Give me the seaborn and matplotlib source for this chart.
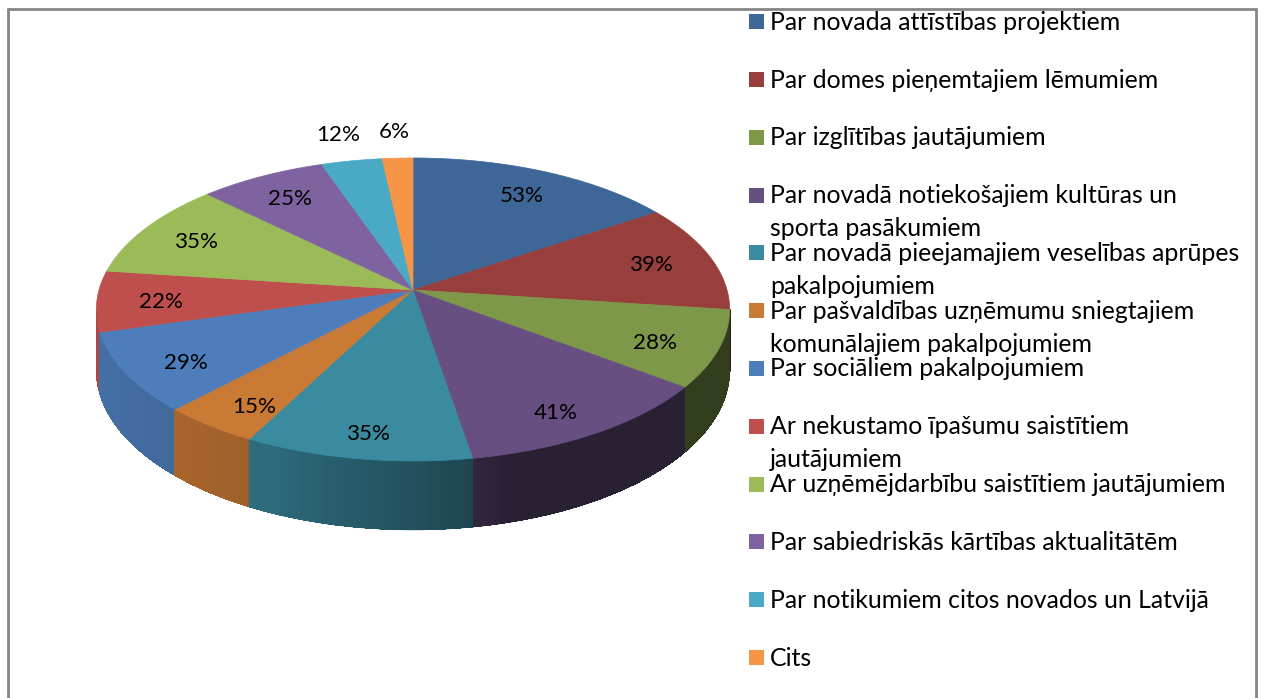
import numpy as np
import matplotlib
matplotlib.use("Agg")
import matplotlib.pyplot as plt
import seaborn as sns
from matplotlib.patches import Polygon, Rectangle
from matplotlib.lines import Line2D

# ---- data -------------------------------------------------------------
categories = [
    "Par novada attīstības projektiem",
    "Par domes pieņemtajiem lēmumiem",
    "Par izglītības jautājumiem",
    "Par novadā notiekošajiem kultūras un\nsporta pasākumiem",
    "Par novadā pieejamajiem veselības aprūpes\npakalpojumiem",
    "Par pašvaldības uzņēmumu sniegtajiem\nkomunālajiem pakalpojumiem",
    "Par sociāliem pakalpojumiem",
    "Ar nekustamo īpašumu saistītiem\njautājumiem",
    "Ar uzņēmējdarbību saistītiem jautājumiem",
    "Par sabiedriskās kārtības aktualitātēm",
    "Par notikumiem citos novados un Latvijā",
    "Cits",
]
values = [53, 39, 28, 41, 35, 15, 29, 22, 35, 25, 12, 6]
value_labels = ["53%", "39%", "28%", "41%", "35%", "15%",
                "29%", "22%", "35%", "25%", "12%", "6%"]
colors = ["#3E6797", "#983E3C", "#7D9848", "#684F82", "#3A8AA0", "#C97A35",
          "#4D7EBB", "#BF4F4C", "#9BBB59", "#7F63A1", "#4AAAC5", "#F69545"]

# ---- style ------------------------------------------------------------
sns.set_theme(style="white")
plt.rcParams["font.family"] = ["Lato", "DejaVu Sans"]
palette = sns.color_palette(colors)

W, H = 1264, 698
fig = plt.figure(figsize=(W / 100, H / 100), dpi=100)
ax = fig.add_axes([0, 0, 1, 1])
ax.set_xlim(0, W)
ax.set_ylim(H, 0)
ax.axis("off")

# chart-area frame
for xs, ys in [([8, 8], [9, H + 5]), ([8, 1256], [9, 9]), ([1256, 1256], [9, H + 5])]:
    ax.add_line(Line2D(xs, ys, color="#868686", lw=2))

# ---- 3-D pie geometry (perspective-projected disc) --------------------
CX, CY = 413, 290      # projected pie centre
A, B = 314, 149        # horizontal / vertical radius scale
P = 0.1286             # perspective strength
DEPTH = 60             # thickness of the disc


def project(r, phi_deg):
    phi = np.radians(phi_deg)
    u = -r * np.cos(phi)            # +1 = front, -1 = back
    s = 1.0 / (1.0 - P * u)
    return CX + A * r * np.sin(phi) * s, CY + B * u * s, s, u


shares = np.array(values, dtype=float) / np.sum(values)
edges = np.concatenate([[0.0], np.cumsum(shares)]) * 360.0

# side wall shading, a function of the angle around the rim
shade_phi = [90, 165, 172, 205, 225, 270]
shade_val = [0.40, 0.40, 0.52, 0.78, 0.84, 0.92]
phi_vis_lo = np.degrees(np.arccos(-P))
phi_vis_hi = 360 - phi_vis_lo

walls = []
for i, (a0, a1) in enumerate(zip(edges[:-1], edges[1:])):
    lo, hi = max(a0, phi_vis_lo), min(a1, phi_vis_hi)
    if hi <= lo:
        continue
    n = max(2, int((hi - lo) / 0.5) + 1)
    ph = np.linspace(lo, hi, n)
    base = np.array(palette[i])
    top = [project(1, p) for p in ph]
    outline = [(x, y) for x, y, s, u in top] + \
              [(x, y + DEPTH * s) for x, y, s, u in reversed(top)]
    k_mid = np.interp(0.5 * (lo + hi), shade_phi, shade_val)
    quads = []
    for (x0, y0, s0, u0), (x1, y1, s1, u1), p0, p1 in zip(top[:-1], top[1:], ph[:-1], ph[1:]):
        k = np.interp(0.5 * (p0 + p1), shade_phi, shade_val)
        quads.append(([(x0, y0), (x1, y1), (x1, y1 + DEPTH * s1),
                       (x0, y0 + DEPTH * s0)], np.clip(base * k, 0, 1)))
    walls.append((np.mean([t[3] for t in top]), outline,
                  np.clip(base * k_mid, 0, 1), quads))

for _, outline, c_mid, quads in sorted(walls, key=lambda t: t[0]):
    # smooth outer edge, then the shaded bands on top of it
    ax.add_patch(Polygon(outline, closed=True, facecolor=c_mid,
                         edgecolor=c_mid, lw=0.5))
    for quad, c in quads:
        ax.add_patch(Polygon(quad, closed=True, facecolor=c, edgecolor=c,
                             lw=0.0, antialiased=False))

# top faces
for i, (a0, a1) in enumerate(zip(edges[:-1], edges[1:])):
    ph = np.linspace(a0, a1, max(3, int((a1 - a0) / 0.5) + 1))
    pts = [(CX, CY)] + [project(1, p)[:2] for p in ph]
    ax.add_patch(Polygon(pts, closed=True, facecolor=palette[i],
                         edgecolor=palette[i], lw=0.5))

# ---- fit font sizes to the layout -------------------------------------
renderer = fig.canvas.get_renderer()


def fit_size(text, target_px, start=16):
    t = ax.text(0, 0, text, fontsize=start)
    w = t.get_window_extent(renderer).width
    t.remove()
    return start * target_px / w


legend_fs = fit_size(categories[0], 353)
label_fs = fit_size("53%", 44)
label_px = label_fs * 100 / 72

# ---- value labels -----------------------------------------------------
for i, (a0, a1) in enumerate(zip(edges[:-1], edges[1:])):
    mid = 0.5 * (a0 + a1)
    if shares[i] < 0.04:
        x, y, s, u = project(1.25, mid)
    else:
        x, y, s, u = project(0.8, mid)
        y += 14 * max(u, 0)
    ax.text(x, y + 0.36 * label_px, value_labels[i], fontsize=label_fs,
            color="black", ha="center", va="baseline")

# ---- legend -----------------------------------------------------------
LX_BOX, LX_TXT = 749, 770
BASE0, STEP, LINE = 29.7, 57.8, 33
for i, lab in enumerate(categories):
    base = BASE0 + STEP * i
    ax.add_patch(Rectangle((LX_BOX, base - 15.5), 15, 15,
                           facecolor=palette[i], edgecolor="none"))
    for j, line in enumerate(lab.split("\n")):
        ax.text(LX_TXT, base + LINE * j, line, fontsize=legend_fs,
                color="black", ha="left", va="baseline")

fig.savefig("out.png", dpi=100, facecolor="white")
